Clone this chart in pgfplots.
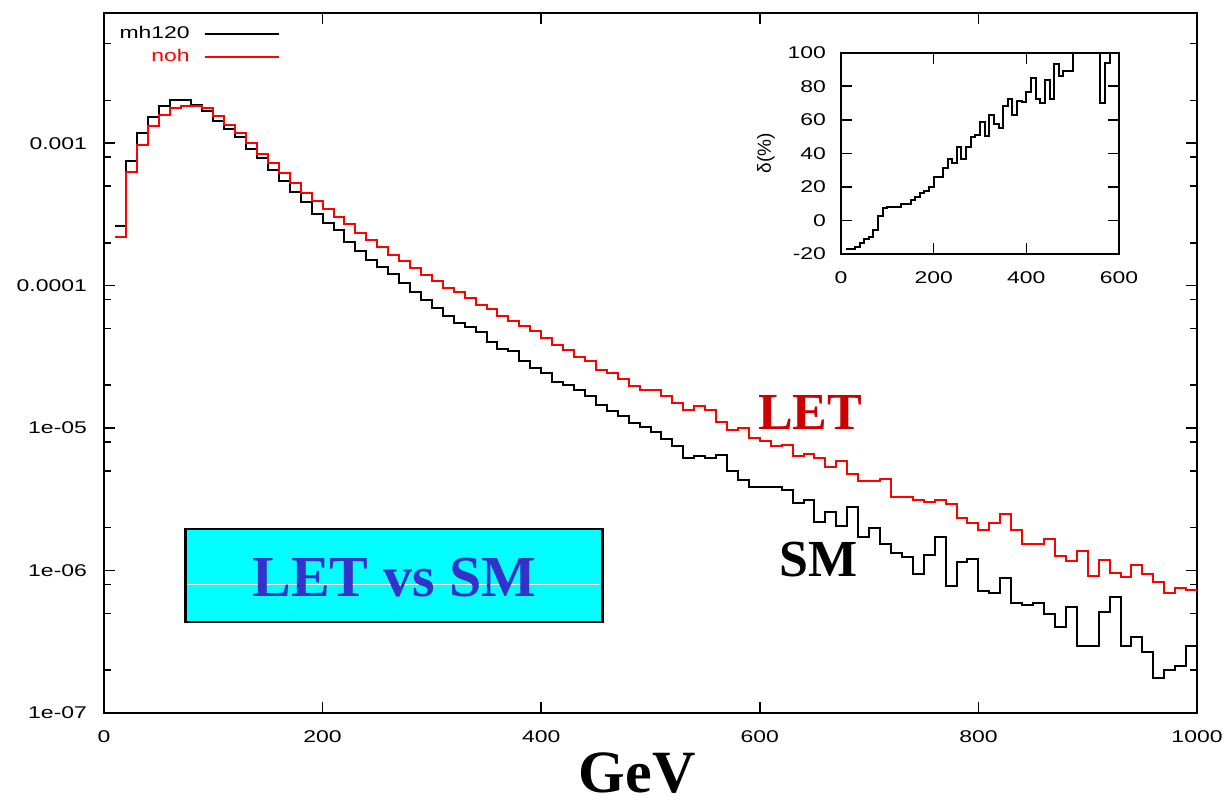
\documentclass[border=0pt]{standalone}
\usepackage{pgfplots}
\pgfplotsset{compat=1.18}
\usepackage{fontspec}
\setmainfont{Liberation Serif}
\newfontfamily\tickfamily[FakeStretch=1.35]{Liberation Sans}
\newfontfamily\plainsans{Liberation Sans}
\newcommand\tickfont{\tickfamily\fontsize{8.5}{10}\selectfont}
\definecolor{letred}{RGB}{204,0,0}
\definecolor{boxblue}{RGB}{51,51,204}
\definecolor{boxcyan}{RGB}{0,255,255}
\begin{document}
\begin{tikzpicture}
\path[use as bounding box] (-52pt,-45pt) rectangle (562.5pt,356.5pt);
\begin{axis}[
  name=main, at={(0pt,0pt)}, anchor=south west,
  scale only axis, width=546.5pt, height=350pt,
  xmin=0, xmax=1000, ymode=log, ymin=1e-7, ymax=0.0082,
  xtick={0,200,400,600,800,1000}, xticklabels={0,200,400,600,800,1000},
  ytick={1e-7,1e-6,1e-5,1e-4,1e-3}, yticklabels={1e-07,1e-06,1e-05,0.0001,0.001},
  minor ytick={2e-7,5e-7,8e-7,2e-6,5e-6,8e-6,2e-5,5e-5,8e-5,2e-4,5e-4,8e-4,2e-3,5e-3},
  tick label style={font=\tickfont},
  major tick length=5.5pt, minor tick length=3.5pt,
  tick style={black, line width=0.8pt},
  axis line style={line width=1pt},
  xticklabel style={yshift=-5.5pt},
  yticklabel style={xshift=-5pt},
  legend plot pos=right,
  legend image code/.code={\draw[#1] (0pt,0pt) -- (37pt,0pt);},
  legend cell align=right,
  legend style={at={(rel axis cs:0.012,0.985)}, anchor=north west, draw=none, fill=none,
    font=\tickfont, inner sep=0pt, row sep=2pt, column sep=6pt, nodes={inner sep=1pt}},
]
\addplot[const plot, black, line width=1pt] coordinates {
(10,2.63e-4)(20,7.54e-4)(30,1.18e-3)(40,1.53e-3)(50,1.83e-3)(60,2.0e-3)(70,2.0e-3)(80,1.86e-3)(90,1.67e-3)(100,1.42e-3)
(110,1.26e-3)(120,1.10e-3)(130,9.10e-4)(140,7.87e-4)(150,6.44e-4)(160,5.39e-4)(170,4.51e-4)(180,3.84e-4)(190,3.20e-4)(200,2.75e-4)
(210,2.44e-4)(220,2.04e-4)(230,1.74e-4)(240,1.52e-4)(250,1.36e-4)(260,1.21e-4)(270,1.05e-4)(280,8.96e-5)(290,7.96e-5)(300,6.96e-5)
(310,6.15e-5)(320,5.51e-5)(330,5.12e-5)(340,4.69e-5)(350,4.00e-5)(360,3.59e-5)(370,3.45e-5)(380,2.94e-5)(390,2.64e-5)(400,2.43e-5)
(410,2.12e-5)(420,2.01e-5)(430,1.86e-5)(440,1.67e-5)(450,1.46e-5)(460,1.31e-5)(470,1.21e-5)(480,1.08e-5)(490,1.01e-5)(500,9.46e-6)
(510,8.37e-6)(520,7.43e-6)(530,6.15e-6)(540,6.39e-6)(550,6.15e-6)(560,6.49e-6)(570,4.96e-6)(580,4.33e-6)(590,3.89e-6)(600,3.89e-6)
(610,3.89e-6)(620,3.69e-6)(630,2.97e-6)(640,3.14e-6)(650,2.21e-6)(660,2.56e-6)(670,2.06e-6)(680,2.79e-6)(690,1.72e-6)(700,1.99e-6)
(710,1.54e-6)(720,1.33e-6)(730,1.25e-6)(740,9.48e-7)(750,1.29e-6)(760,1.72e-6)(770,7.81e-7)(780,1.14e-6)(790,1.20e-6)(800,7.24e-7)
(810,6.94e-7)(820,8.84e-7)(830,5.96e-7)(840,5.74e-7)(850,5.96e-7)(860,4.97e-7)(870,4.00e-7)(880,5.59e-7)(890,2.96e-7)(900,2.96e-7)
(910,5.15e-7)(920,6.51e-7)(930,2.96e-7)(940,3.44e-7)(950,2.66e-7)(960,1.76e-7)(970,1.99e-7)(980,2.14e-7)(990,2.96e-7)(1000,2.96e-7)
};
\addlegendentry{\textcolor{black}{mh120}}
\addplot[const plot, red, line width=1pt] coordinates {
(10,2.19e-4)(20,6.23e-4)(30,9.76e-4)(40,1.31e-3)(50,1.58e-3)(60,1.77e-3)(70,1.83e-3)(80,1.83e-3)(90,1.77e-3)(100,1.54e-3)
(110,1.35e-3)(120,1.17e-3)(130,1.01e-3)(140,8.44e-4)(150,7.26e-4)(160,6.18e-4)(170,5.25e-4)(180,4.47e-4)(190,3.90e-4)(200,3.45e-4)
(210,3.02e-4)(220,2.72e-4)(230,2.36e-4)(240,2.10e-4)(250,1.87e-4)(260,1.65e-4)(270,1.48e-4)(280,1.33e-4)(290,1.19e-4)(300,1.07e-4)
(310,9.62e-5)(320,8.96e-5)(330,8.18e-5)(340,7.34e-5)(350,6.85e-5)(360,6.15e-5)(370,5.61e-5)(380,5.17e-5)(390,4.77e-5)(400,4.29e-5)
(410,3.85e-5)(420,3.55e-5)(430,3.18e-5)(440,2.98e-5)(450,2.57e-5)(460,2.43e-5)(470,2.21e-5)(480,1.96e-5)(490,1.84e-5)(500,1.84e-5)
(510,1.67e-5)(520,1.50e-5)(530,1.33e-5)(540,1.42e-5)(550,1.34e-5)(560,1.11e-5)(570,9.73e-6)(580,1.0e-5)(590,8.51e-6)(600,8.18e-6)
(610,7.43e-6)(620,7.63e-6)(630,6.32e-6)(640,6.60e-6)(650,6.15e-6)(660,5.32e-6)(670,5.83e-6)(680,4.78e-6)(690,4.22e-6)(700,4.22e-6)
(710,4.38e-6)(720,3.28e-6)(730,3.28e-6)(740,3.14e-6)(750,3.02e-6)(760,3.14e-6)(770,2.94e-6)(780,2.33e-6)(790,2.17e-6)(800,1.93e-6)
(810,2.17e-6)(820,2.50e-6)(830,1.93e-6)(840,1.54e-6)(850,1.54e-6)(860,1.66e-6)(870,1.27e-6)(880,1.16e-6)(890,1.38e-6)(900,9.18e-7)
(910,1.19e-6)(920,9.59e-7)(930,8.99e-7)(940,1.10e-6)(950,9.48e-7)(960,8.37e-7)(970,7.01e-7)(980,7.52e-7)(990,7.32e-7)(1000,7.32e-7)
};
\addlegendentry{\textcolor{red}{noh}}
\draw[line width=1.2pt, draw=black, fill=boxcyan] (axis cs:74.55,4.36e-7) rectangle (axis cs:456,1.963e-6);
\draw[white, line width=0.4pt] (axis cs:77,7.94e-7) -- (axis cs:453.5,7.94e-7);
\node[anchor=base, text=boxblue, font=\bfseries\fontsize{29}{30}\selectfont, inner sep=0pt] at (axis cs:265.7,6.57e-7) {LET vs SM};
\node[anchor=base, text=letred, font=\bfseries\fontsize{26}{27}\selectfont, inner sep=0pt] at (axis cs:646,9.72e-6) {LET};
\node[anchor=base, text=black, font=\bfseries\fontsize{26}{27}\selectfont, inner sep=0pt] at (axis cs:654,9.03e-7) {SM};
\end{axis}
\node[anchor=base, font=\bfseries\fontsize{30}{31}\selectfont, inner sep=0pt] at (266.5pt,-39.5pt) {GeV};
\begin{axis}[
  name=inset, at={(368.5pt,229.5pt)}, anchor=south west,
  scale only axis, width=139pt, height=100.65pt,
  xmin=0, xmax=600, ymin=-20, ymax=100,
  xtick={0,200,400,600}, xticklabels={0,200,400,600},
  ytick={-20,0,20,40,60,80,100}, yticklabels={-20,0,20,40,60,80,100},
  tick label style={font=\tickfont},
  major tick length=5.5pt,
  tick style={black, line width=0.8pt},
  axis line style={line width=1pt},
  xticklabel style={yshift=-5.5pt},
  yticklabel style={xshift=-4pt},
]
\addplot[const plot, black, line width=1pt] coordinates {
(10,-17.2)(20,-17.2)(30,-15.6)(40,-13.3)(50,-11.3)(60,-10.1)(70,-5.7)(80,2.6)(90,7.2)(100,8.2)
(110,8.2)(120,8.2)(130,9.8)(140,9.8)(150,12.2)(160,14.2)(170,16.2)(180,17.7)(190,20.1)(200,26.1)
(210,26.1)(220,31.1)(230,36.4)(240,34.0)(250,44.0)(260,36.4)(270,44.0)(280,49.9)(290,50.9)(300,58.9)
(310,50.3)(320,62.8)(330,57.5)(340,54.9)(350,68.2)(360,72.2)(370,62.8)(380,71.4)(390,70.8)(400,76.8)
(410,84.7)(420,72.2)(430,69.8)(440,83.7)(450,72.2)(460,93.2)(470,86.1)(480,89.3)(490,89.3)(500,130)
(510,130)(520,130)(530,130)(540,130)(550,130)(560,69.8)(570,93.6)(580,130)(590,130)(600,130)
};
\end{axis}
\node[rotate=90, font=\plainsans\fontsize{9.5}{10}\selectfont, inner sep=0pt] at (331pt,280pt) {δ(\%)};
\end{tikzpicture}
\end{document}
